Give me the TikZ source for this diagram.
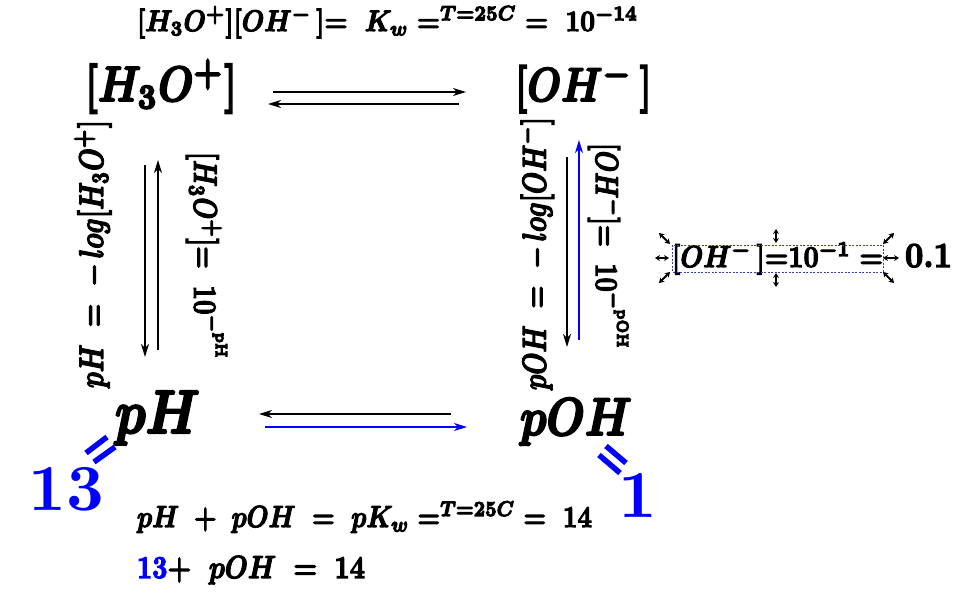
\documentclass[tikz,border=0pt]{standalone}
\usepackage{graphicx}
\usetikzlibrary{arrows.meta,calc}
\definecolor{mblue}{RGB}{0,0,255}
\definecolor{selblue}{RGB}{60,60,170}
\newcommand{\embon}{\special{pdf:literal direct 2 Tr 0.38 w}}
\newcommand{\emboff}{\special{pdf:literal direct 0 Tr}}
\newcommand{\fitw}[2]{\resizebox{#1}{!}{\embon#2\emboff}}
\newcommand{\fith}[2]{\resizebox{!}{#1}{#2}}
\begin{document}
\begin{tikzpicture}[x=1pt,y=-1pt,
  lbl/.style={inner sep=0pt, outer sep=0pt, font=\boldmath, transform shape},
  arr/.style={line width=1.5pt, -{Stealth[length=13pt,width=8pt,inset=4pt]}},
  barr/.style={arr, draw=mblue, -{Stealth[length=13pt,width=8pt,inset=4pt,fill=mblue]}},
  handle/.style={line width=1.8pt, {Stealth[length=5pt,width=6pt]}-{Stealth[length=5pt,width=6pt]}},
  eqbar/.style={line width=5.5pt, draw=mblue}]
\useasboundingbox (0,0) rectangle (979,593);

% texts
\begin{scope}[shift={(387.5,31)}, yscale=1.15]
\node[lbl, anchor=base] (top) at (0,0) {\fitw{501pt}{$[H_3O^+][OH^-\,]{=}\ \ K_w =^{T=25C}{=}\ \ 10^{-14}$}};
\end{scope}
\begin{scope}[shift={(161,101)}, yscale=1.22]
\node[lbl, anchor=base] (h3o) at (0,0) {\fitw{152pt}{$[H_3O^+]$}};
\end{scope}
\begin{scope}[shift={(583.5,101)}, yscale=1.22]
\node[lbl, anchor=base] (oh) at (0,0) {\fitw{137pt}{$[OH^-\,]$}};
\end{scope}
\begin{scope}[shift={(157.5,433)}, yscale=1.2]
\node[lbl, anchor=base] (ph) at (0,0) {\fitw{85pt}{$pH$}};
\end{scope}
\begin{scope}[shift={(576,435)}, yscale=1.2]
\node[lbl, anchor=base] (poh) at (0,0) {\fitw{112pt}{$pOH$}};
\end{scope}
\node[lbl, anchor=base, text=mblue] (n13) at (66.5,510) {\fith{43pt}{\bfseries 13}};
\node[lbl, anchor=base, text=mblue] (n1) at (638,517) {\fith{44pt}{\bfseries 1}};

\begin{scope}[shift={(93,254)}, rotate=90, yscale=1.3]
\node[lbl] (lblL) at (0,0) {\fitw{268pt}{$pH\ =\ -\,log[H_3O^+]$}};
\end{scope}
\begin{scope}[shift={(206.5,256)}, rotate=-90, yscale=1.3]
\node[lbl] (lblL2) at (0,0) {\fitw{208pt}{$[H_3O^+]{=}\ \ 10^{-^{\mathrm{pH}}}$}};
\end{scope}
\begin{scope}[shift={(536,253.5)}, rotate=90, yscale=1.3]
\node[lbl] (lblR) at (0,0) {\fitw{273pt}{$pOH\ =\ -\,log[OH^-]$}};
\end{scope}
\begin{scope}[shift={(608,246.5)}, rotate=-90, yscale=1.3]
\node[lbl] (lblR2) at (0,0) {\fitw{207pt}{$[OH^-]{=}\ \ 10^{-^{\mathrm{pOH}}}$}};
\end{scope}

\begin{scope}[shift={(364.5,527)}, yscale=1.2]
\node[lbl, anchor=base] (eq2) at (0,0) {\fitw{455pt}{$pH\ +\ pOH\ =\ pK_w =^{T=25C}{=}\ \ 14$}};
\end{scope}
\begin{scope}[shift={(251,578)}, yscale=1.2]
\node[lbl, anchor=base] (eq3) at (0,0) {\fitw{228pt}{$\textcolor{mblue}{13}{+}\ \ pOH\ =\ 14$}};
\end{scope}

% selected text box
\begin{scope}[shift={(777.5,267)}, yscale=1.15]
\node[lbl, anchor=base] (sel) at (0,0) {\fitw{211pt}{$[OH^-\,]{=}10^{-1}\ {=}$}};
\end{scope}
\begin{scope}[shift={(928.5,267)}, yscale=1.1]
\node[lbl, anchor=base] (v01) at (0,0) {\fitw{47pt}{$0.1$}};
\end{scope}
\draw[selblue, line width=0.6pt, dash pattern=on 2pt off 1.5pt] (672,245) rectangle (883,272);
\draw[handle] (655,258) -- (669,258);
\draw[handle] (883,258) -- (899,258);
\draw[handle] (776,229) -- (776,243);
\draw[handle] (776,273) -- (776,287);
\draw[handle] (659,233) -- (670,244);
\draw[handle] (659,283) -- (670,272);
\draw[handle] (883,244) -- (894,233);
\draw[handle] (883,272) -- (894,283);

% blue equal signs
\draw[eqbar] (86,453) -- (107,437);
\draw[eqbar] (94,462) -- (115,447);
\draw[eqbar] (606,446) -- (626,463);
\draw[eqbar] (599,455) -- (620,473);

% top arrows
\draw[arr] ($(h3o.base)+(112,-9)$) -- ($(oh.base)+(-117.5,-9)$);
\draw[arr] ($(oh.base)+(-124.5,3)$) -- ($(h3o.base)+(107,3)$);
% left arrows
\draw[arr] ($(h3o.base)+(-16,64)$) -- ($(ph.base)+(-12.5,-76)$);
\draw[arr] ($(ph.base)+(0.5,-83)$) -- ($(h3o.base)+(-3,59)$);
% right arrows
\draw[arr] ($(oh.base)+(-16.5,56)$) -- ($(poh.base)+(-9,-88)$);
\draw[barr] ($(poh.base)+(3,-95)$) -- ($(oh.base)+(-4.5,39)$);
% bottom arrows
\draw[arr] ($(poh.base)+(-125,-21)$) -- ($(ph.base)+(101.5,-19)$);
\draw[barr] ($(ph.base)+(107.5,-6)$) -- ($(poh.base)+(-109,-8)$);
\end{tikzpicture}
\end{document}
